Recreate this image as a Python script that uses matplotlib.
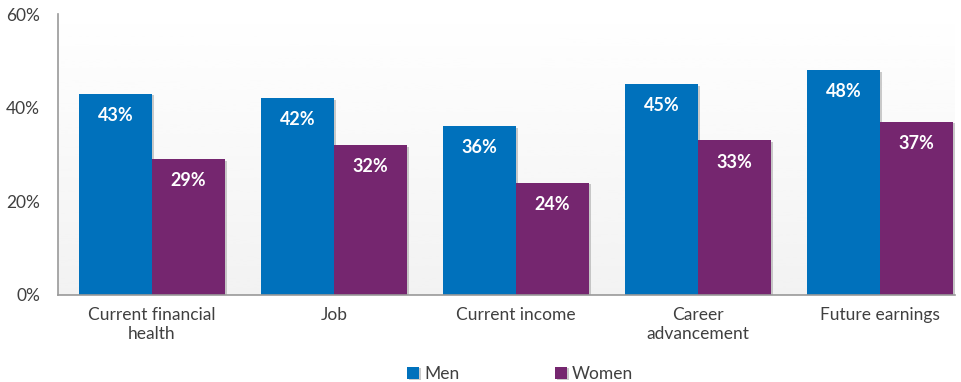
import numpy as np
import matplotlib.pyplot as plt
import matplotlib.patheffects as pe

plt.rcParams['font.family'] = ['Lato', 'DejaVu Sans']

categories = ["Current financial\nhealth", "Job", "Current income", "Career\nadvancement", "Future earnings"]
men = [43, 42, 36, 45, 48]
women = [29, 32, 24, 33, 37]

blue = "#0071BC"
purple = "#75266F"
grey_text = "#404040"

fig = plt.figure(figsize=(9.61, 3.82), dpi=100)
ax = fig.add_axes([0.0604, 0.228, 0.933, 0.735])

x = np.arange(len(categories))
w = 0.4
x0, x1 = -0.516, 4.41

# soft grey fade toward the baseline
grad = np.linspace(1.0, 0.90, 256).reshape(-1, 1)
ax.imshow(grad, cmap="gray", vmin=0, vmax=1, aspect="auto",
          extent=(x0, x1, 0, 60), origin="upper", zorder=0, alpha=0.5)

shadow = [pe.SimplePatchShadow(offset=(1.5, -1), shadow_rgbFace="#999999", alpha=0.5), pe.Normal()]
b1 = ax.bar(x - w / 2, men, w, color=blue, label="Men", zorder=2, path_effects=shadow)
b2 = ax.bar(x + w / 2, women, w, color=purple, label="Women", zorder=2, path_effects=shadow)

for bars, vals in [(b1, men), (b2, women)]:
    for r, v in zip(bars, vals):
        ax.text(r.get_x() + r.get_width() / 2, v - 4.6, f"{v}%", ha="center", va="center",
                color="white", fontsize=13, fontweight="bold", zorder=3)

ax.set_xlim(x0, x1)
ax.set_ylim(0, 60)
ax.set_yticks([0, 20, 40, 60])
ax.set_yticklabels(["0%", "20%", "40%", "60%"])
ax.set_xticks(x)
ax.set_xticklabels(categories)
ax.tick_params(axis="both", length=0, colors=grey_text, labelsize=12.5)
ax.tick_params(axis="x", pad=9)
ax.tick_params(axis="y", pad=13)
for s in ["top", "right"]:
    ax.spines[s].set_visible(False)
ax.spines["left"].set_color("#999999")
ax.spines["bottom"].set_color("#999999")
ax.spines["left"].set_linewidth(1.2)
ax.spines["bottom"].set_linewidth(1.2)

leg = fig.legend(handles=[b1, b2], labels=["Men", "Women"], loc="lower center",
                 bbox_to_anchor=(0.541, -0.04), ncol=2, frameon=False, fontsize=12.5,
                 handlelength=0.7, handleheight=0.7, handletextpad=0.3, columnspacing=5.5)
for t in leg.get_texts():
    t.set_color(grey_text)

fig.savefig("out.png", dpi=100)
